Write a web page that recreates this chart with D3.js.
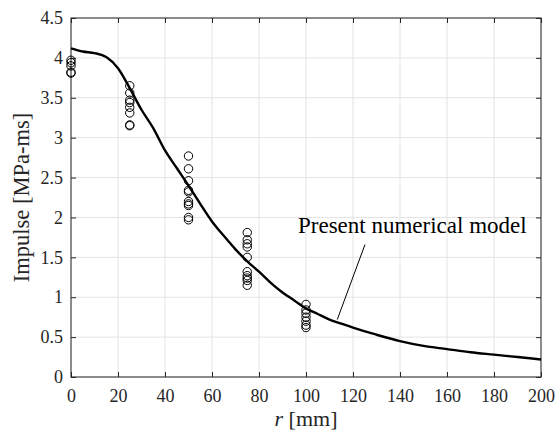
<!DOCTYPE html>
<html><head><meta charset="utf-8">
<script src="https://cdn.jsdelivr.net/npm/d3@7"></script>
</head><body style="margin:0;background:#fff"><svg id="c" width="556" height="437" style="display:block"></svg>
<script>
// Measured data (circles)
const expR = [0,0,0,0,0, 25,25,25,25,25,25,25,25, 50,50,50,50,50,50,50,50,50,50, 75,75,75,75,75,75,75,75,75,75, 100,100,100,100,100,100,100];
const expI = [3.97,3.94,3.90,3.82,3.81, 3.65,3.56,3.47,3.44,3.38,3.31,3.16,3.15, 2.77,2.61,2.46,2.34,2.32,2.20,2.17,2.15,2.00,1.97, 1.81,1.72,1.67,1.63,1.50,1.32,1.27,1.24,1.21,1.15, 0.91,0.84,0.80,0.75,0.70,0.65,0.62];
// Numerical model curve
const modelR = [0,5,10,15,20,25,30,35,40,45,50,55,60,65,70,75,80,85,90,95,100,105,110,115,120,130,140,150,160,170,180,190,200];
const modelI = [4.12,4.08,4.06,4.01,3.87,3.62,3.35,3.12,2.84,2.62,2.40,2.17,1.95,1.77,1.60,1.45,1.32,1.18,1.06,0.96,0.86,0.79,0.72,0.67,0.62,0.53,0.45,0.39,0.35,0.31,0.28,0.25,0.22];
const xTicks = [0,20,40,60,80,100,120,140,160,180,200];
const yTicks = [0,0.5,1,1.5,2,2.5,3,3.5,4,4.5];
const annText = "Present numerical model";
const annFrom = [125.1,1.66], annTo = [113.3,0.72];

const FONT = "Liberation Serif";
const svg = d3.select("#c").attr("font-family",FONT);
const L=71,R=541,T=18,B=377;
const x = d3.scaleLinear().domain([0,200]).range([L,R]);
const y = d3.scaleLinear().domain([0,4.5]).range([B,T]);

// grid
const g = svg.append("g");
g.selectAll(".gx").data(xTicks).join("line").attr("x1",d=>x(d)).attr("x2",d=>x(d)).attr("y1",T).attr("y2",B).attr("stroke","#e3e3e3").attr("stroke-width",1);
g.selectAll(".gy").data(yTicks).join("line").attr("y1",d=>y(d)).attr("y2",d=>y(d)).attr("x1",L).attr("x2",R).attr("stroke","#e3e3e3").attr("stroke-width",1);

// axes
const fmt = d=>String(d);
const ax = svg.append("g").attr("transform",`translate(0,${B})`).call(d3.axisBottom(x).tickValues(xTicks).tickSize(-5).tickPadding(12).tickFormat(fmt));
const axT = svg.append("g").attr("transform",`translate(0,${T})`).call(d3.axisTop(x).tickValues(xTicks).tickSize(-5).tickFormat(""));
const ay = svg.append("g").attr("transform",`translate(${L},0)`).call(d3.axisLeft(y).tickValues(yTicks).tickSize(-5).tickPadding(8).tickFormat(fmt));
const ayR = svg.append("g").attr("transform",`translate(${R},0)`).call(d3.axisRight(y).tickValues(yTicks).tickSize(-5).tickFormat(""));
[ax,axT,ay,ayR].forEach(a=>{a.attr("font-family",FONT).attr("font-size",18);a.select(".domain").remove();a.selectAll("line").attr("stroke","#262626");a.selectAll("text").attr("font-family",FONT).attr("font-size",18).attr("fill","#262626");});
svg.append("rect").attr("x",L).attr("y",T).attr("width",R-L).attr("height",B-T).attr("fill","none").attr("stroke","#262626").attr("stroke-width",1);

// circles
svg.append("g").selectAll("circle").data(expR.map((r,i)=>[r,expI[i]])).join("circle")
  .attr("cx",d=>x(d[0])).attr("cy",d=>y(d[1])).attr("r",4.2).attr("fill","none").attr("stroke","#000").attr("stroke-width",1);

// model line
svg.append("path").datum(modelR.map((r,i)=>[r,modelI[i]])).attr("d",d3.line().x(d=>x(d[0])).y(d=>y(d[1])).curve(d3.curveMonotoneX))
  .attr("fill","none").attr("stroke","#000").attr("stroke-width",2.4);

// annotation
svg.append("line").attr("x1",x(annFrom[0])).attr("y1",y(annFrom[1])).attr("x2",x(annTo[0])).attr("y2",y(annTo[1])).attr("stroke","#000").attr("stroke-width",1);
svg.append("text").attr("x",298).attr("y",233).attr("font-family",FONT).attr("font-size",23).attr("fill","#000").text(annText);

// labels
svg.append("text").attr("x",(L+R)/2).attr("y",426).attr("text-anchor","middle").attr("font-family",FONT).attr("font-size",22).attr("fill","#262626")
  .html('<tspan font-style="italic">r</tspan> [mm]');
svg.append("text").attr("transform",`translate(29,${(T+B)/2}) rotate(-90)`).attr("text-anchor","middle").attr("font-family",FONT).attr("font-size",22.5).attr("fill","#262626").text("Impulse [MPa-ms]");
</script></body></html>
